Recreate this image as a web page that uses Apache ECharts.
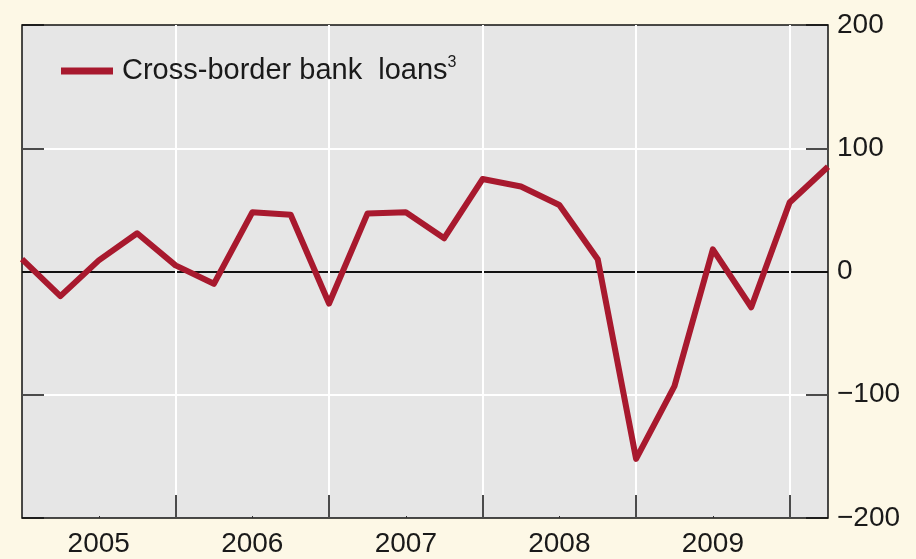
<!DOCTYPE html>
<html>
<head>
<meta charset="utf-8">
<script src="https://cdn.jsdelivr.net/npm/echarts@6/dist/echarts.min.js"></script>
<style>
  html, body { margin: 0; padding: 0; background: #fdf8e6; }
  #main { width: 916px; height: 559px; }
</style>
</head>
<body>
<div id="main"></div>
<script>
// quarterly observations, decimal year
const quarters = [
  2005.00, 2005.25, 2005.50, 2005.75,
  2006.00, 2006.25, 2006.50, 2006.75,
  2007.00, 2007.25, 2007.50, 2007.75,
  2008.00, 2008.25, 2008.50, 2008.75,
  2009.00, 2009.25, 2009.50, 2009.75,
  2010.00, 2010.25
];
const loans = [
  10, -20, 9, 31,
  5, -10, 48, 46,
  -26, 47, 48, 27,
  75, 69, 54, 10,
  -152, -93, 18, -29,
  56, 85
];
const yearLabels = [2005, 2006, 2007, 2008, 2009];
const yearBounds = [2006, 2007, 2008, 2009, 2010];

var myChart = echarts.init(document.getElementById("main"));

const font = "Liberation Sans, Arial, sans-serif";

const option = {
  backgroundColor: "#fdf8e6",
  animation: false,
  grid: {
    left: 22,
    right: 88,
    top: 25,
    bottom: 41,
    show: true,
    backgroundColor: "#e6e6e6",
    borderColor: "#111",
    borderWidth: 1.5,
  },
  legend: {
    left: 56,
    top: 50,
    icon: "rect",
    itemWidth: 52,
    itemHeight: 7,
    itemGap: 10,
    data: ["loans"],
    formatter: () => "Cross-border bank  loans{sup|3}",
    textStyle: {
      fontFamily: font,
      fontSize: 29,
      color: "#1a1a1a",
      padding: [0, 0, 0, 4],
      rich: {
        sup: { fontFamily: font, fontSize: 16, color: "#1a1a1a", verticalAlign: "top", padding: [0, 0, 16, 0] },
      },
    },
  },
  xAxis: [
    {
      type: "value",
      min: 2005,
      max: 2010.25,
      interval: 1,
      axisLine: { show: false, onZero: false },
      axisLabel: { show: false },
      axisTick: {
        show: true,
        inside: true,
        length: 23,
        customValues: yearBounds,
        lineStyle: { color: "#111", width: 1.5 },
      },
      splitLine: {
        show: true,
        lineStyle: { color: "#ffffff", width: 2 },
      },
    },
    {
      type: "value",
      min: 2005,
      max: 2010.25,
      position: "bottom",
      axisLine: { show: false, onZero: false },
      splitLine: { show: false },
      axisTick: {
        show: true,
        inside: true,
        length: 2,
        customValues: yearLabels.map((y) => y + 0.5),
        lineStyle: { color: "#333", width: 1 },
      },
      axisLabel: {
        show: true,
        customValues: yearLabels.map((y) => y + 0.5),
        formatter: (v) => String(Math.floor(v)),
        fontFamily: font,
        fontSize: 28,
        color: "#1a1a1a",
        margin: 12,
      },
    },
  ],
  yAxis: [
    {
      type: "value",
      position: "right",
      min: -200,
      max: 200,
      interval: 100,
      axisLine: { show: false },
      axisTick: {
        show: true,
        inside: true,
        length: 22,
        lineStyle: { color: "#111", width: 1.5 },
      },
      axisLabel: {
        fontFamily: font,
        fontSize: 28,
        color: "#1a1a1a",
        margin: 9,
        formatter: (v) => String(v).replace("-", "\u2212"),
      },
      splitLine: {
        show: true,
        lineStyle: {
          color: ["transparent", "#ffffff", "#111111", "#ffffff", "transparent"],
          width: 2,
        },
      },
    },
    {
      type: "value",
      position: "left",
      min: -200,
      max: 200,
      interval: 100,
      axisLine: { show: false },
      axisLabel: { show: false },
      splitLine: { show: false },
      axisTick: {
        show: true,
        inside: true,
        length: 22,
        lineStyle: { color: "#111", width: 1.5 },
      },
    },
  ],
  series: [
    {
      name: "loans",
      type: "line",
      xAxisIndex: 0,
      yAxisIndex: 0,
      data: quarters.map((q, i) => [q, loans[i]]),
      showSymbol: false,
      color: "#a8192e",
      lineStyle: { color: "#a8192e", width: 6, join: "round" },
      z: 5,
    },
  ],
};

myChart.setOption(option);
</script>
</body>
</html>
